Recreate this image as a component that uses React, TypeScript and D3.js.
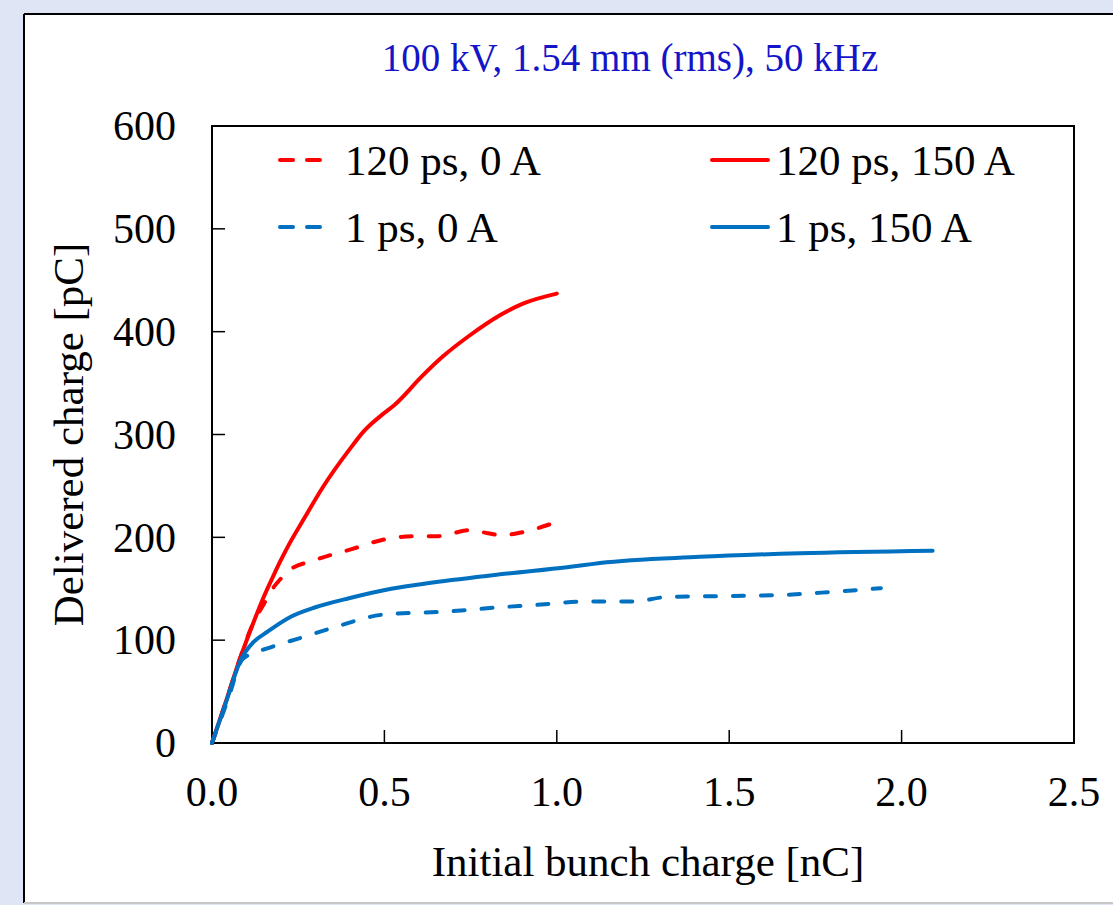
import React from "react";
import * as d3 from "d3";

const W = 1113;
const H = 905;

const xTicks = [0, 0.5, 1.0, 1.5, 2.0, 2.5];
const yTicks = [0, 100, 200, 300, 400, 500, 600];

// 120 ps, 150 A (solid red)
const red150X = [0, 0.04, 0.08, 0.12, 0.15, 0.18, 0.2, 0.22, 0.265, 0.32, 0.4, 0.44, 0.5, 0.53, 0.61, 0.67, 0.75, 0.835, 0.9, 1.0];
const red150Y = [0, 40, 81, 117, 142, 164, 178, 191, 217, 248, 286, 303, 321, 329, 357, 376, 397, 416, 427, 437];

// 120 ps, 0 A (dashed red)
const red0X = [0, 0.04, 0.08, 0.12, 0.15, 0.18, 0.2, 0.22, 0.3, 0.41, 0.5, 0.58, 0.65, 0.75, 0.8, 0.84, 0.9, 1.0];
const red0Y = [0, 40, 81, 117, 135, 152, 160, 167, 178, 189, 198, 201, 201, 207, 204, 202, 205, 215];

// 1 ps, 150 A (solid blue)
const blue150X = [0, 0.04, 0.085, 0.12, 0.16, 0.23, 0.3, 0.4, 0.52, 0.64, 0.835, 1.03, 1.08, 1.125, 1.415, 1.705, 2.09];
const blue150Y = [0, 39, 82, 98, 108, 123, 132, 141, 150, 156, 164, 171, 173, 175, 181, 184.5, 187];

// 1 ps, 0 A (dashed blue)
const blue0X = [0, 0.045, 0.09, 0.17, 0.255, 0.35, 0.5, 0.69, 0.835, 0.93, 1.08, 1.22, 1.32, 1.51, 1.66, 1.8, 1.94];
const blue0Y = [0, 41, 82, 93, 102, 112, 125, 128, 132, 134, 137.5, 137.5, 142, 143, 144, 147, 150.5];

const seriesNames = ["120 ps, 0 A", "120 ps, 150 A", "1 ps, 0 A", "1 ps, 150 A"];

const RED = "#ff0000";
const BLUE = "#0070c0";
const FONT = "'Liberation Serif', 'Times New Roman', serif";

const plot = { left: 212, top: 126, right: 1074, bottom: 743 };

export default function App() {
  const x = d3.scaleLinear().domain([0, 2.5]).range([plot.left, plot.right]);
  const y = d3.scaleLinear().domain([0, 600]).range([plot.bottom, plot.top]);

  const line = d3
    .line<[number, number]>()
    .x((d) => x(d[0]))
    .y((d) => y(d[1]))
    .curve(d3.curveMonotoneX);

  const zip = (xs: number[], ys: number[]) => xs.map((v, i) => [v, ys[i]] as [number, number]);

  const series = [
    { name: seriesNames[0], data: zip(red0X, red0Y), color: RED, dashed: true },
    { name: seriesNames[1], data: zip(red150X, red150Y), color: RED, dashed: false },
    { name: seriesNames[2], data: zip(blue0X, blue0Y), color: BLUE, dashed: true },
    { name: seriesNames[3], data: zip(blue150X, blue150Y), color: BLUE, dashed: false },
  ];

  const dash = "11,17";
  const legendPos = [
    { lx1: 280, lx2: 327, tx: 345, y: 160 },
    { lx1: 712, lx2: 768, tx: 776, y: 160 },
    { lx1: 280, lx2: 327, tx: 345, y: 227 },
    { lx1: 712, lx2: 768, tx: 776, y: 227 },
  ];

  return (
    <svg
      width={W}
      height={H}
      style={{ position: "absolute", left: 0, top: 0, display: "block" }}
      fontFamily={FONT}
    >
      <rect x={0} y={0} width={W} height={H} fill="#dfe5f5" />
      <rect x={24} y={14} width={W} height={889} fill="#ffffff" />
      <line x1={24} y1={14} x2={W} y2={14} stroke="#000" strokeWidth={2} />
      <line x1={24} y1={14} x2={24} y2={903} stroke="#000" strokeWidth={2} />
      <line x1={24} y1={903} x2={W} y2={903} stroke="#c8c8c8" strokeWidth={2} />

      <text x={630} y={58} dy="0.34em" textAnchor="middle" fontSize={39} fill="#1414c8">
        100 kV, 1.54 mm (rms), 50 kHz
      </text>

      {/* plot frame */}
      <rect
        x={plot.left}
        y={plot.top}
        width={plot.right - plot.left}
        height={plot.bottom - plot.top}
        fill="none"
        stroke="#000"
        strokeWidth={2}
      />

      {yTicks.map((t) => (
        <g key={"y" + t}>
          {t > 0 && t < 600 && (
            <line x1={plot.left} x2={plot.left + 13} y1={y(t)} y2={y(t)} stroke="#000" strokeWidth={1.5} />
          )}
          <text x={176} y={y(t)} dy="0.34em" textAnchor="end" fontSize={42} fill="#000">
            {t}
          </text>
        </g>
      ))}

      {xTicks.map((t) => (
        <g key={"x" + t}>
          {t > 0 && t < 2.5 && (
            <line x1={x(t)} x2={x(t)} y1={plot.bottom} y2={plot.bottom - 13} stroke="#000" strokeWidth={1.5} />
          )}
          <text x={x(t)} y={806} textAnchor="middle" fontSize={42} fill="#000">
            {t.toFixed(1)}
          </text>
        </g>
      ))}

      <text x={648} y={876} textAnchor="middle" fontSize={43} fill="#000">
        Initial bunch charge [nC]
      </text>
      <text
        transform={`translate(83, ${(plot.top + plot.bottom) / 2}) rotate(-90)`}
        textAnchor="middle"
        fontSize={43}
        fill="#000"
      >
        Delivered charge [pC]
      </text>

      {series.map((s) => (
        <path
          key={s.name}
          d={line(s.data) || ""}
          fill="none"
          stroke={s.color}
          strokeWidth={4}
          strokeDasharray={s.dashed ? dash : undefined}
          strokeLinecap="round"
          strokeLinejoin="round"
        />
      ))}

      {series.map((s, i) => {
        const p = legendPos[i];
        return (
          <g key={"lg" + s.name}>
            <line
              x1={p.lx1}
              x2={p.lx2}
              y1={p.y}
              y2={p.y}
              stroke={s.color}
              strokeWidth={4}
              strokeDasharray={s.dashed ? "13,14" : undefined}
              strokeLinecap="round"
            />
            <text x={p.tx} y={p.y} dy="0.34em" fontSize={43} fill="#000">
              {s.name}
            </text>
          </g>
        );
      })}
    </svg>
  );
}
